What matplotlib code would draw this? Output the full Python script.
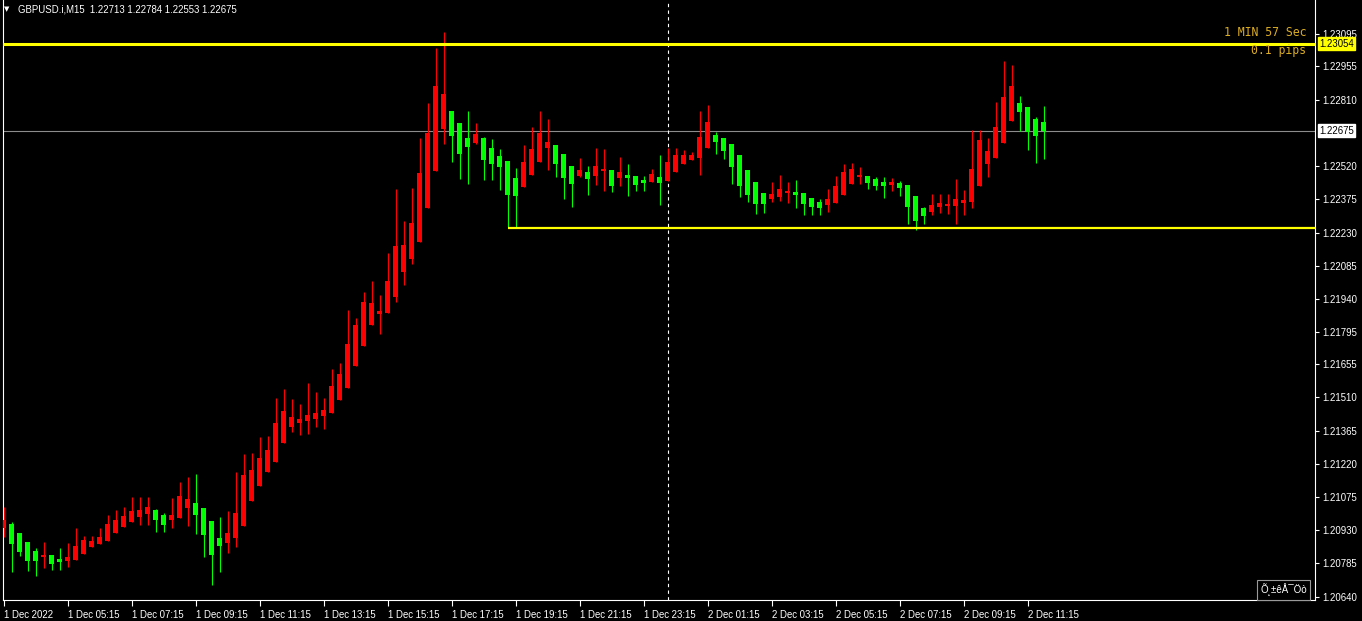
import matplotlib
matplotlib.use('Agg')
import matplotlib.pyplot as plt
import matplotlib.transforms as mtransforms
from matplotlib.patches import Rectangle

W, H = 1362, 621

opens = [1.20941, 1.20959, 1.20918, 1.20879, 1.20840, 1.20813, 1.20822, 1.20805, 1.20796, 1.20802,
         1.20828, 1.20858, 1.20871, 1.20885, 1.20918, 1.20946, 1.20967, 1.20989, 1.21002, 1.21019,
         1.20997, 1.20976, 1.20985, 1.21029, 1.21049, 1.21027, 1.20971, 1.20896, 1.20876, 1.20898,
         1.20950, 1.21059, 1.21125, 1.21186, 1.21229, 1.21312, 1.21382, 1.21400, 1.21408, 1.21417,
         1.21430, 1.21443, 1.21500, 1.21553, 1.21649, 1.21736, 1.21826, 1.21876, 1.21880, 1.21950,
         1.22059, 1.22116, 1.22189, 1.22337, 1.22499, 1.22682, 1.22761, 1.22708, 1.22643, 1.22621,
         1.22643, 1.22599, 1.22564, 1.22542, 1.22468, 1.22429, 1.22481, 1.22538, 1.22599, 1.22612,
         1.22573, 1.22520, 1.22477, 1.22494, 1.22477, 1.22499, 1.22503, 1.22468, 1.22481, 1.22477,
         1.22459, 1.22451, 1.22472, 1.22455, 1.22494, 1.22529, 1.22547, 1.22555, 1.22599, 1.22656,
         1.22643, 1.22617, 1.22569, 1.22503, 1.22451, 1.22403, 1.22376, 1.22385, 1.22403, 1.22407,
         1.22403, 1.22381, 1.22363, 1.22350, 1.22359, 1.22394, 1.22442, 1.22472, 1.22477, 1.22464,
         1.22451, 1.22437, 1.22446, 1.22437, 1.22390, 1.22337, 1.22320, 1.22341, 1.22346, 1.22346,
         1.22359, 1.22363, 1.22433, 1.22529, 1.22555, 1.22621, 1.22717, 1.22796, 1.22778, 1.22726,
         1.22713]
highs = [1.21033, 1.20967, 1.20918, 1.20879, 1.20851, 1.20879, 1.20822, 1.20853, 1.20875, 1.20940,
         1.20905, 1.20905, 1.20940, 1.20997, 1.21019, 1.21032, 1.21075, 1.21075, 1.21075, 1.21023,
         1.21007, 1.21071, 1.21141, 1.21163, 1.21176, 1.21027, 1.20971, 1.20989, 1.21014, 1.21185,
         1.21263, 1.21267, 1.21337, 1.21342, 1.21508, 1.21547, 1.21503, 1.21481, 1.21573, 1.21534,
         1.21508, 1.21634, 1.21660, 1.21892, 1.21857, 1.21970, 1.22018, 1.21957, 1.22141, 1.22420,
         1.22280, 1.22424, 1.22643, 1.22796, 1.23036, 1.23106, 1.22761, 1.22708, 1.22761, 1.22708,
         1.22647, 1.22638, 1.22595, 1.22542, 1.22512, 1.22612, 1.22691, 1.22761, 1.22726, 1.22612,
         1.22573, 1.22520, 1.22555, 1.22520, 1.22599, 1.22595, 1.22503, 1.22560, 1.22529, 1.22477,
         1.22477, 1.22507, 1.22569, 1.22599, 1.22599, 1.22590, 1.22582, 1.22761, 1.22787, 1.22669,
         1.22643, 1.22617, 1.22569, 1.22503, 1.22451, 1.22403, 1.22451, 1.22481, 1.22451, 1.22459,
         1.22403, 1.22381, 1.22376, 1.22420, 1.22477, 1.22529, 1.22534, 1.22516, 1.22477, 1.22472,
         1.22472, 1.22468, 1.22455, 1.22437, 1.22390, 1.22341, 1.22398, 1.22398, 1.22398, 1.22464,
         1.22416, 1.22678, 1.22678, 1.22643, 1.22800, 1.22979, 1.22961, 1.22826, 1.22778, 1.22734,
         1.22784]
lows = [1.20902, 1.20749, 1.20818, 1.20753, 1.20732, 1.20767, 1.20758, 1.20758, 1.20771, 1.20802,
        1.20828, 1.20858, 1.20871, 1.20885, 1.20918, 1.20946, 1.20967, 1.20954, 1.20954, 1.20924,
        1.20924, 1.20941, 1.20985, 1.20950, 1.20915, 1.20815, 1.20692, 1.20749, 1.20832, 1.20858,
        1.20950, 1.21059, 1.21125, 1.21186, 1.21229, 1.21312, 1.21360, 1.21347, 1.21352, 1.21382,
        1.21374, 1.21443, 1.21500, 1.21553, 1.21649, 1.21736, 1.21826, 1.21788, 1.21880, 1.21928,
        1.22002, 1.22094, 1.22189, 1.22337, 1.22499, 1.22617, 1.22538, 1.22464, 1.22442, 1.22617,
        1.22459, 1.22459, 1.22416, 1.22250, 1.22250, 1.22429, 1.22481, 1.22538, 1.22503, 1.22472,
        1.22376, 1.22341, 1.22472, 1.22394, 1.22437, 1.22411, 1.22407, 1.22433, 1.22390, 1.22411,
        1.22411, 1.22451, 1.22350, 1.22455, 1.22494, 1.22529, 1.22547, 1.22481, 1.22599, 1.22573,
        1.22551, 1.22442, 1.22385, 1.22363, 1.22311, 1.22315, 1.22363, 1.22368, 1.22359, 1.22337,
        1.22306, 1.22306, 1.22306, 1.22320, 1.22359, 1.22394, 1.22442, 1.22442, 1.22420, 1.22416,
        1.22381, 1.22411, 1.22390, 1.22267, 1.22241, 1.22267, 1.22306, 1.22315, 1.22311, 1.22267,
        1.22306, 1.22337, 1.22433, 1.22472, 1.22555, 1.22621, 1.22717, 1.22673, 1.22590, 1.22534,
        1.22553]
closes = [1.20975, 1.20871, 1.20836, 1.20796, 1.20797, 1.20822, 1.20784, 1.20793, 1.20813, 1.20861,
          1.20888, 1.20883, 1.20901, 1.20959, 1.20975, 1.20992, 1.21014, 1.21019, 1.21032, 1.20976,
          1.20954, 1.20997, 1.21080, 1.21067, 1.20998, 1.20911, 1.20823, 1.20863, 1.20919, 1.21007,
          1.21171, 1.21193, 1.21246, 1.21281, 1.21398, 1.21451, 1.21425, 1.21416, 1.21433, 1.21442,
          1.21455, 1.21560, 1.21612, 1.21743, 1.21826, 1.21927, 1.21922, 1.21887, 1.22018, 1.22171,
          1.22176, 1.22272, 1.22490, 1.22665, 1.22870, 1.22835, 1.22652, 1.22573, 1.22603, 1.22660,
          1.22547, 1.22529, 1.22516, 1.22394, 1.22390, 1.22538, 1.22595, 1.22665, 1.22625, 1.22529,
          1.22468, 1.22442, 1.22503, 1.22464, 1.22520, 1.22507, 1.22433, 1.22494, 1.22468, 1.22437,
          1.22446, 1.22486, 1.22446, 1.22538, 1.22569, 1.22569, 1.22569, 1.22647, 1.22713, 1.22625,
          1.22586, 1.22516, 1.22433, 1.22394, 1.22355, 1.22355, 1.22398, 1.22420, 1.22411, 1.22394,
          1.22355, 1.22341, 1.22337, 1.22376, 1.22433, 1.22494, 1.22507, 1.22481, 1.22446, 1.22433,
          1.22433, 1.22451, 1.22424, 1.22341, 1.22280, 1.22302, 1.22350, 1.22359, 1.22355, 1.22376,
          1.22372, 1.22507, 1.22634, 1.22586, 1.22691, 1.22822, 1.22870, 1.22756, 1.22669, 1.22652,
          1.22675]

xtick_labels = ["1 Dec 2022", "1 Dec 05:15", "1 Dec 07:15", "1 Dec 09:15", "1 Dec 11:15",
                "1 Dec 13:15", "1 Dec 15:15", "1 Dec 17:15", "1 Dec 19:15", "1 Dec 21:15",
                "1 Dec 23:15", "2 Dec 01:15", "2 Dec 03:15", "2 Dec 05:15", "2 Dec 07:15",
                "2 Dec 09:15", "2 Dec 11:15"]
ytick_values = [1.23095, 1.22955, 1.22810, 1.22520, 1.22375, 1.22230, 1.22085, 1.21940,
                1.21795, 1.21655, 1.21510, 1.21365, 1.21220, 1.21075, 1.20930, 1.20785, 1.20640]

symbol_header = "GBPUSD.i,M15  1.22713 1.22784 1.22553 1.22675"
resistance = 1.23054
support = 1.22250
support_start = 63
bid_price = 1.22675
day_separator = 83
timer_text = "1 MIN 57 Sec"
spread_text = "0.1 pips"
box_text = "Õ¸±êÅ¯Öò"

BULL = '#FF0000'
BEAR = '#00FF00'
FONT = 'Liberation Sans'
FS = 6.9

fig = plt.figure(figsize=(W / 100, H / 100), dpi=100, facecolor='black')
ax = fig.add_axes([2.5 / W, 21 / H, (1315 - 2.5) / W, 600 / H])
ax.set_facecolor('black')

n = len(opens)
xs = list(range(n))
colors = [BULL if c > o else BEAR for o, c in zip(opens, closes)]
ymin, ymax = 1.206256, 1.232452
px = (ymax - ymin) / 600.0

ax.vlines(xs, lows, highs, colors=colors, linewidth=0.8, zorder=3)
bottoms = [min(o, c) for o, c in zip(opens, closes)]
heights = [max(abs(c - o), px * 1.2) for o, c in zip(opens, closes)]
ax.bar(xs, heights, bottom=bottoms, width=0.625, color=colors, linewidth=0, zorder=4)

ax.axhline(resistance, color='#FFFF00', linewidth=2.2, zorder=5)
ax.hlines(support, support_start, 200, color='#FFFF00', linewidth=1.6, zorder=5)
ax.axhline(bid_price, color='#8C8C8C', linewidth=0.8, zorder=2)
ax.axvline(day_separator, color='white', linewidth=0.8, linestyle=(0, (3, 3)), zorder=2)

ax.set_xlim(-0.125, 163.9375)
ax.set_ylim(ymin, ymax)

for s in ['left', 'bottom', 'right']:
    ax.spines[s].set_color('white')
    ax.spines[s].set_linewidth(0.8)
ax.spines['top'].set_visible(False)

ax.yaxis.tick_right()
ax.set_yticks(ytick_values)
ax.set_yticklabels([f"{v:.5f}" for v in ytick_values], fontfamily=FONT, fontsize=FS)
ax.tick_params(axis='y', colors='white', length=3, width=0.8, pad=2)

ax.set_xticks(list(range(0, n, 8)))
ax.set_xticklabels(xtick_labels, ha='left', fontfamily=FONT, fontsize=FS)
ax.tick_params(axis='x', colors='white', length=4, width=0.8, pad=3)
for lbl in ax.get_xticklabels():
    lbl.set_transform(lbl.get_transform() + mtransforms.ScaledTranslation(1 / 100, 0, fig.dpi_scale_trans))

# price boxes on the axis
bt = mtransforms.blended_transform_factory(fig.transFigure, ax.transData)
ax.text(1319 / W, resistance, f"{resistance:.5f}", transform=bt, ha='left', va='center',
        fontfamily=FONT, fontsize=FS, color='black', zorder=10, clip_on=False,
        bbox=dict(boxstyle='square,pad=0.15', facecolor='#FFFF00', edgecolor='#FFFF00'))
ax.text(1319 / W, bid_price, f"{bid_price:.5f}", transform=bt, ha='left', va='center',
        fontfamily=FONT, fontsize=FS, color='black', zorder=10, clip_on=False,
        bbox=dict(boxstyle='square,pad=0.15', facecolor='white', edgecolor='white'))

# header
fig.text(7 / W, 1 - 9 / H, "▼", color='white', fontsize=5, ha='center', va='center', family='DejaVu Sans')
fig.text(18 / W, 1 - 9 / H, symbol_header, color='white', fontsize=FS, ha='left', va='center', family=FONT)

# timer texts
fig.text(1306 / W, 1 - 33 / H, timer_text, color='#DDAE22', fontsize=8.3, ha='right', va='center',
         family='DejaVu Sans Mono')
fig.text(1306 / W, 1 - 50.5 / H, spread_text, color='#DDAE22', fontsize=8.3, ha='right', va='center',
         family='DejaVu Sans Mono')

# bottom-right box
rect = Rectangle((1257 / W, 1 - 600 / H), 53 / W, 20 / H, transform=fig.transFigure,
                 facecolor='black', edgecolor='#9A9A9A', linewidth=0.8, zorder=20)
fig.patches.append(rect)
fig.text(1283.5 / W, 1 - 590 / H, box_text, color='white', fontsize=7, ha='center', va='center',
         family=FONT, zorder=21)

fig.savefig('out.png', dpi=100, facecolor='black')
